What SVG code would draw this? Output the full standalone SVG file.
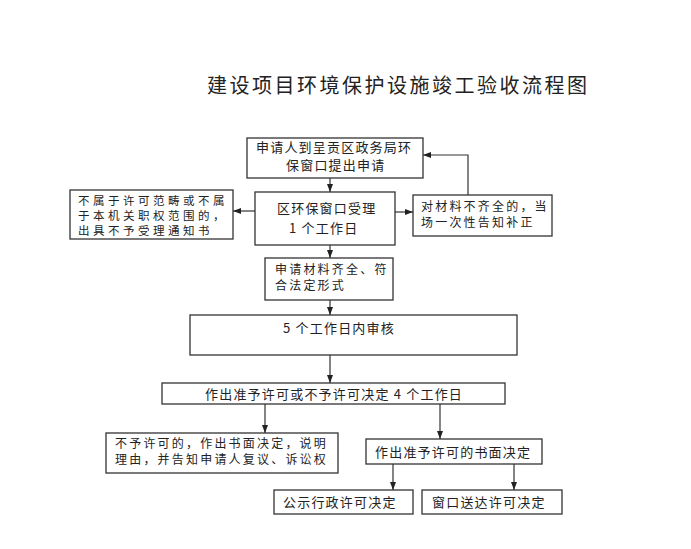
<svg xmlns="http://www.w3.org/2000/svg" width="691" height="549" viewBox="0 0 691 549">
<style>
.box{fill:#fff;stroke:#333;stroke-width:1.3}
.t{font-family:"Noto Sans CJK SC","Noto Sans",sans-serif;font-size:13px;letter-spacing:1.2px;fill:#222}
.s{font-size:12px;letter-spacing:2.2px}
.title{font-family:"Noto Sans CJK SC","Noto Sans",sans-serif;font-size:20px;fill:#222}
.c{fill:none;stroke:#333;stroke-width:1.2;marker-end:url(#ah)}
</style>
<defs>
<marker id="ah" markerUnits="userSpaceOnUse" markerWidth="8" markerHeight="6" refX="8" refY="3" orient="auto">
<path d="M0,0 L8,3 L0,6 z" fill="#222"/>
</marker>
</defs>
<rect width="691" height="549" fill="#fff"/>
<text class="title" x="207" y="93" textLength="380" lengthAdjust="spacing">建设项目环境保护设施竣工验收流程图</text>

<g id="connectors">
<path class="c" d="M330,178 V192"/>
<path class="c" d="M255,211 H233"/>
<path class="c" d="M395,212 H413"/>
<path class="c" d="M468,195 V155 H423"/>
<path class="c" d="M330,245 V258"/>
<path class="c" d="M330,300 V315"/>
<path class="c" d="M330,355 V383"/>
<path class="c" d="M265,404 V433"/>
<path class="c" d="M440,404 V439"/>
<path class="c" d="M393,464 V490"/>
<path class="c" d="M514,464 V490"/>
</g>

<g id="n1">
<rect class="box" x="247" y="138" width="176" height="40"/>
<text class="t" x="256" y="152">申请人到呈贡区政务局环</text>
<text class="t" x="286" y="170">保窗口提出申请</text>
</g>
<g id="n2">
<rect class="box" x="255" y="192" width="140" height="53"/>
<text class="t" x="277" y="213">区环保窗口受理</text>
<text class="t" x="289" y="233">1 个工作日</text>
</g>
<g id="n3">
<rect class="box" x="70" y="190" width="163" height="49"/>
<text class="t" x="78" y="205" style="font-size:11.5px;letter-spacing:3.5px">不属于许可范畴或不属</text>
<text class="t" x="78" y="220" style="font-size:11.5px;letter-spacing:3.5px">于本机关职权范围的，</text>
<text class="t" x="78" y="235" style="font-size:11.5px;letter-spacing:3.5px">出具不予受理通知书</text>
</g>
<g id="n4">
<rect class="box" x="413" y="195" width="139" height="41"/>
<text class="t s" x="421" y="211">对材料不齐全的，当</text>
<text class="t s" x="421" y="227">场一次性告知补正</text>
</g>
<g id="n5">
<rect class="box" x="265" y="258" width="128" height="42"/>
<text class="t s" x="275" y="274">申请材料齐全、符</text>
<text class="t s" x="275" y="290">合法定形式</text>
</g>
<g id="n6">
<rect class="box" x="190" y="315" width="327" height="40"/>
<text class="t" x="283" y="333">5 个工作日内审核</text>
</g>
<g id="n7">
<rect class="box" x="162" y="383" width="343" height="21"/>
<text class="t" x="205" y="399">作出准予许可或不予许可决定 4 个工作日</text>
</g>
<g id="n8">
<rect class="box" x="106" y="433" width="232" height="40"/>
<text class="t s" x="115" y="448">不予许可的，作出书面决定，说明</text>
<text class="t s" x="115" y="464">理由，并告知申请人复议、诉讼权</text>
</g>
<g id="n9">
<rect class="box" x="366" y="439" width="176" height="25"/>
<text class="t" x="375" y="457">作出准予许可的书面决定</text>
</g>
<g id="n10">
<rect class="box" x="274" y="490" width="139" height="24"/>
<text class="t" x="283" y="507">公示行政许可决定</text>
</g>
<g id="n11">
<rect class="box" x="422" y="490" width="140" height="24"/>
<text class="t" x="432" y="507">窗口送达许可决定</text>
</g>
</svg>
